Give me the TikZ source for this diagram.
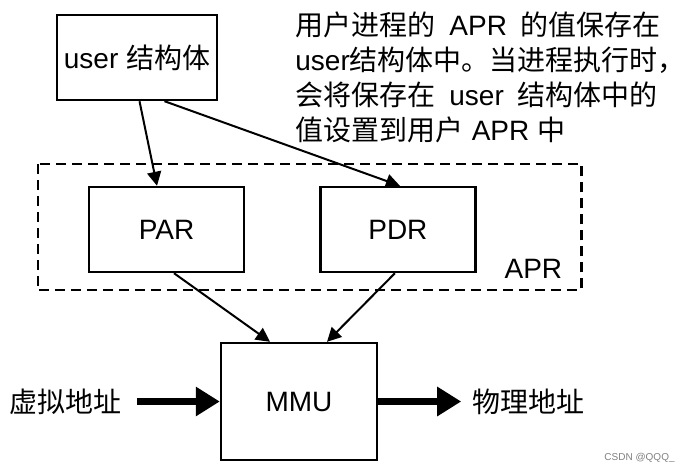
\documentclass[tikz,border=0pt]{standalone}
\usepackage{fontspec}
\setmainfont{Liberation Sans}
\newfontfamily\cjk{Noto Sans CJK SC}
\usepackage{tikz}
\usetikzlibrary{arrows.meta, positioning}
\usepackage{xcolor}

\begin{document}
\begin{tikzpicture}[x=0.5pt,y=-0.5pt,
    font=\fontsize{14}{17.5}\selectfont,
    reg/.style={draw, line width=1.2pt, minimum width=77.5pt, minimum height=42.5pt},
    thin/.style={line width=1pt, -{Triangle[length=7pt,width=7pt]}},
    thick/.style={line width=3.5pt, -{Triangle[length=12pt,width=14pt]}}]
    \useasboundingbox (0,0) rectangle (684,471);
    % Add the boxes
        \node[reg,
              minimum width=76pt
              ] (user) at (137,57.5) {user {\cjk 结构体}};
        \node[reg
              ] (par) at (166.5,229.5) {PAR};
        \node[reg,
              right=37pt of par
              ] (pdr) {PDR};
        \node[reg,
              minimum width=78pt,
              minimum height=58.5pt
              ] (mmu) at (299,401.5) {MMU};
        \node[inner sep=2pt,
              left=47pt of mmu
              ] (virt) {\cjk 虚拟地址};
        \node[inner sep=2pt,
              right=45pt of mmu
              ] (phys) {\cjk 物理地址};
        % note
        \node[anchor=north west,
              inner sep=0pt,
              align=left
              ] (note) at (295,11) {{\cjk 用户进程的}\hspace{0.5em}APR\hspace{0.5em}{\cjk 的值保存在}\\
              user{\cjk 结构体中。当进程执行时，}\\
              {\cjk 会将保存在}\hspace{0.5em}user\hspace{0.5em}{\cjk 结构体中的}\\
              {\cjk 值设置到用户}\hspace{0.3em}APR\hspace{0.3em}{\cjk 中}};
        % APR frame
        \coordinate (aprnw) at ([shift={(-25pt,11pt)}]par.north west);
        \coordinate (aprse) at ([shift={(52.5pt,-8.5pt)}]pdr.south east);
        \draw[dashed, line width=1.2pt, dash pattern=on 5pt off 3pt] (aprnw) rectangle (aprse);
        \node[anchor=south east, inner sep=0pt] (aprlabel) at ([shift={(-9.5pt,5.5pt)}]aprse) {APR};
        \node[anchor=south east, inner sep=0pt, text=gray,
              font=\fontsize{5}{6}\selectfont] (mark) at (675,463) {CSDN @QQQ\_};

       \draw
            ([xshift=1.25pt]user.south) edge[thin] ([xshift=-4.75pt]par.north)
            ([xshift=13.75pt]user.south) edge[thin] ([xshift=1pt]pdr.north)
            ([xshift=3.75pt]par.south) edge[thin] ([xshift=-14.5pt]mmu.north)
            ([xshift=-1.5pt]pdr.south) edge[thin] ([xshift=14pt]mmu.north);
       \draw[thick, shorten <=5.5pt] (virt.east) -- (mmu.west);
       \draw[thick, shorten >=3.5pt] (mmu.east) -- (phys.west);
    \end{tikzpicture}
\end{document}
